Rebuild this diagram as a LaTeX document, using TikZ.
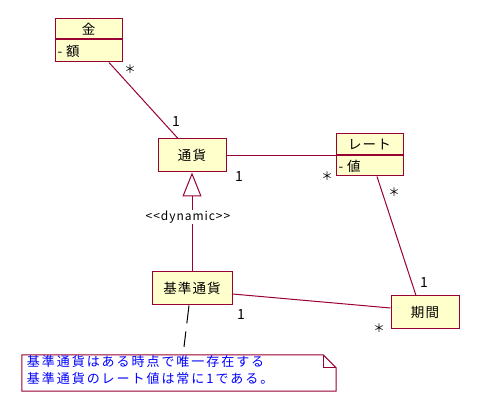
\documentclass[tikz,border=0pt]{standalone}
\usepackage{fontspec}
\setmainfont{Noto Sans CJK JP}[LetterSpace=8]
\newfontfamily\plainfont{Noto Sans CJK JP}
\newfontfamily\notefont{Noto Sans CJK JP}[LetterSpace=15]
\usetikzlibrary{arrows.meta,calc}
\definecolor{boxfill}{HTML}{FFFFCC}
\definecolor{boxline}{HTML}{990033}
\definecolor{notetext}{HTML}{0000FF}
\tikzset{
  cls/.style={draw=boxline, fill=boxfill, line width=1pt, minimum height=#1, inner sep=0pt, font=\fontsize{13.5}{13.5}\selectfont},
  assoc/.style={draw=boxline, line width=1pt},
  mult/.style={font=\plainfont\fontsize{14}{14}\selectfont, inner sep=0pt},
  star/.style={font=\plainfont\fontsize{11.5}{11.5}\selectfont, inner sep=0pt},
}
\begin{document}
\begin{tikzpicture}[x=1pt,y=-1pt]
\useasboundingbox (0,0) rectangle (480,414);
% 金
\node[cls=20pt, minimum width=67pt] (kin) at (88.5,29) {金};
\node[cls=22pt, minimum width=67pt, anchor=north, text width=62pt, align=left] (kinattr) at (kin.south) {-\hspace{4pt}額};
% 通貨
\node[cls=33pt, minimum width=68pt] (tsuka) at (192,155.5) {通貨};
% レート
\node[cls=21pt, minimum width=67pt] (rate) at (369.5,144.5) {レート};
\node[cls=20pt, minimum width=67pt, anchor=north, text width=62pt, align=left] (rateattr) at (rate.south) {-\hspace{4pt}値};
% 基準通貨
\node[cls=33pt, minimum width=80pt] (kijun) at (192,288.5) {基準通貨};
% 期間
\node[cls=33pt, minimum width=68pt] (kikan) at (425,312.5) {期間};
% note
\node[draw=none, minimum width=314pt, minimum height=36pt, inner sep=0pt] (note) at (179,373) {};
\draw[boxline, line width=1pt, fill=white]
  (note.north west) -- ($(note.north east)+(-13,0)$) -- ($(note.north east)+(0,13)$) -- (note.south east) -- (note.south west) -- cycle;
\draw[boxline, line width=1pt] ($(note.north east)+(-13,0)$) -- ($(note.north east)+(-13,13)$) -- ($(note.north east)+(0,13)$);
\node[anchor=north west, inner sep=0pt, align=left, text=notetext, font=\notefont\fontsize{13}{17}\selectfont] (notetxt) at ($(note.north west)+(5,1)$)
  {基準通貨はある時点で唯一存在する\\基準通貨のレート値は常に1である。};
% associations
\draw[assoc] ([xshift=20.5]kinattr.south) -- ([xshift=-14]tsuka.north);
\draw[assoc] (tsuka.east) -- (tsuka.east -| rate.west);
\draw[assoc] ([xshift=7.5]rateattr.south) -- ([xshift=-9]kikan.north);
\draw[assoc] ([yshift=-5.5]kijun.east) -- ([yshift=4.5]kikan.west);
% generalization
\draw[assoc, -{Triangle[open, length=24pt, width=19pt, fill=white]}] (kijun.north) -- (tsuka.south);
\node[font=\fontsize{12}{12}\selectfont, fill=white, inner sep=1pt] (dyn) at (188,217) {{<}{<}dynamic{>}{>}};
% note anchor line
\draw[black, line width=1pt, dash pattern=on 18pt off 8pt] ([xshift=-3]kijun.south) -- ([xshift=5,yshift=8]note.north);
% multiplicities
\node[star] (m1) at (130,69) {＊};
\node[mult] (m2) at (176,122) {1};
\node[mult] (m3) at (239,177) {1};
\node[star] (m4) at (327,176) {＊};
\node[star] (m5) at (394,192) {＊};
\node[mult] (m6) at (424,283) {1};
\node[mult] (m7) at (241,315) {1};
\node[star] (m8) at (379,328) {＊};
\end{tikzpicture}
\end{document}
